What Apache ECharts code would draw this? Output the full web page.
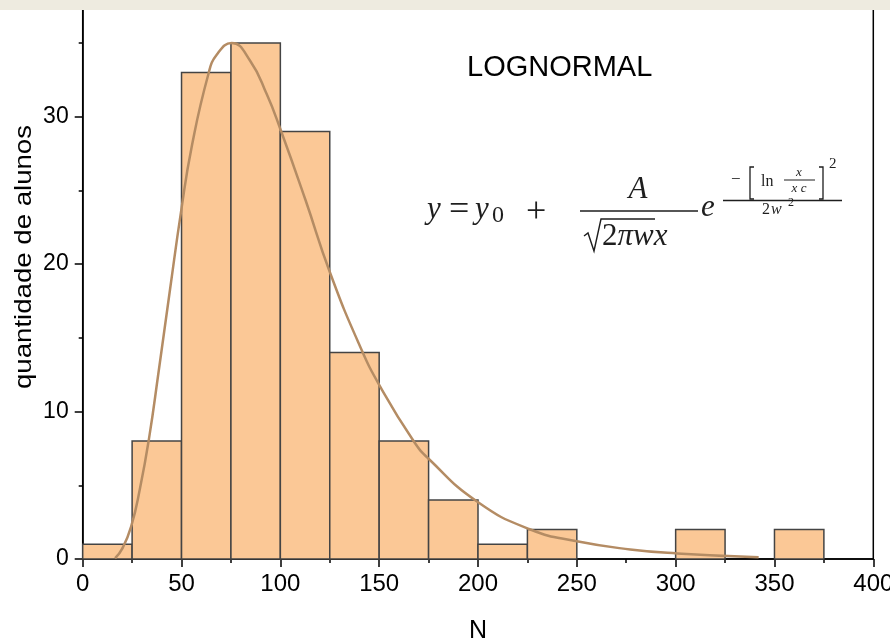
<!DOCTYPE html>
<html>
<head>
<meta charset="utf-8">
<script src="https://cdn.jsdelivr.net/npm/echarts@6/dist/echarts.min.js"></script>
<style>
  html, body { margin: 0; padding: 0; background: #ffffff; }
  #chart { width: 890px; height: 640px; }
</style>
</head>
<body>
<div id="chart"></div>
<script>
// Histogram of students per class size (bins of 25)
const binStarts = [0, 25, 50, 75, 100, 125, 150, 175, 200, 225, 250, 275, 300, 325, 350];
const binWidth = 25;
const studentCounts = [1, 8, 33, 35, 29, 14, 8, 4, 1, 2, 0, 0, 2, 0, 2];

// Fitted lognormal curve, sampled points
const fitN = [16.4, 20, 24.5, 29, 33.7, 38.3, 44.2, 49.8, 55.2, 63.6, 67.8, 75.4, 84.7,
              93.2, 99.9, 112.6, 125.2, 140.4, 150.5, 167.4, 175, 199.5, 226.5, 250, 277, 300.8, 342];
const fitCount = [0.05, 0.7, 2.2, 4.8, 8.3, 12.6, 18.3, 23.6, 28.0, 32.9, 34.2, 35.0, 33.8,
                  31.5, 29.2, 24.4, 19.4, 14.4, 11.7, 8.0, 6.8, 3.9, 2.0, 1.2, 0.65, 0.38, 0.12];

const xTickLabels = ['0', '50', '100', '150', '200', '250', '300', '350', '400'];
const yTickLabels = ['0', '10', '20', '30'];

const bins = binStarts
  .map((s, i) => [s, s + binWidth, studentCounts[i]])
  .filter(b => b[2] > 0);

const fitData = fitN.map((x, i) => [x, fitCount[i]]);

const sans = 'Liberation Sans, Arial, sans-serif';
const serif = 'Liberation Serif, Times New Roman, serif';
const ink = '#1e1e1e';

function txt(text, x, y, size, opts) {
  opts = opts || {};
  return {
    type: 'text', x: x, y: y, z: 50,
    style: {
      text: text, fill: ink,
      font: (opts.italic ? 'italic ' : '') + size + 'px ' + serif,
      align: opts.align || 'left', verticalAlign: 'middle'
    }
  };
}
function seg(points, w) {
  return { type: 'polyline', z: 50, shape: { points: points }, style: { stroke: ink, lineWidth: w || 1.4, fill: null } };
}

// y = y0 + A / (sqrt(2*pi) w x) * e^( -[ln(x/xc)]^2 / (2 w^2) )
const formula = [
  txt('y', 427, 210, 31, { italic: true }),
  txt('=', 449, 211, 36),
  txt('y', 475, 210, 31, { italic: true }),
  txt('0', 492, 216, 24),
  txt('+', 526, 213, 36),
  seg([[580, 211], [698, 211]], 1.5),
  txt('A', 638, 190, 31, { italic: true, align: 'center' }),
  seg([[584, 236], [588, 233], [594, 251], [601, 219], [655, 219]], 1.4),
  {
    type: 'text', x: 602, y: 237, z: 50,
    style: {
      text: '{n|2}{i|πwx}', verticalAlign: 'middle',
      rich: {
        n: { font: '31px ' + serif, fill: ink },
        i: { font: 'italic 31px ' + serif, fill: ink }
      }
    }
  },
  txt('e', 701, 208, 31, { italic: true }),
  seg([[723, 200.5], [842, 200.5]], 1.5),
  txt('−', 731, 180, 17),
  seg([[754, 167], [750, 167], [750, 199], [754, 199]], 1.3),
  txt('ln', 761, 182, 16),
  txt('x', 799, 173, 13, { italic: true, align: 'center' }),
  seg([[784, 180], [815, 180]], 1),
  txt('x c', 799, 189, 13, { italic: true, align: 'center' }),
  seg([[819, 167], [823, 167], [823, 199], [819, 199]], 1.3),
  txt('2', 829, 164, 15),
  txt('2', 762, 210, 16),
  txt('w', 771, 210, 16, { italic: true }),
  txt('2', 788, 203, 12)
];

const chart = echarts.init(document.getElementById('chart'), null, { renderer: 'canvas' });

chart.setOption({
  animation: false,
  backgroundColor: '#ffffff',
  grid: {
    left: 82.7, right: 16.7, top: -30.7, bottom: 81,
    containLabel: false, outerBoundsMode: 'none',
    show: true, borderColor: '#000000', borderWidth: 1.5, backgroundColor: 'transparent'
  },
  xAxis: {
    type: 'value', min: 0, max: 400, interval: 50,
    name: 'N', nameLocation: 'middle', nameGap: 60,
    nameTextStyle: { fontFamily: sans, fontSize: 25, color: '#000' },
    axisLine: { show: true, onZero: false, lineStyle: { color: '#000', width: 1.5 } },
    axisTick: { show: true, inside: false, length: 8, lineStyle: { color: '#000', width: 1.5 } },
    minorTick: { show: true, splitNumber: 2, length: 4, lineStyle: { color: '#000', width: 1.5 } },
    splitLine: { show: false },
    axisLabel: {
      margin: 13, fontFamily: sans, fontSize: 24, color: '#000',
      formatter: v => xTickLabels[Math.round(v / 50)] || ''
    }
  },
  yAxis: {
    type: 'value', min: 0, max: 40, interval: 10,
    axisLine: { show: true, onZero: false, lineStyle: { color: '#000', width: 1.5 } },
    axisTick: { show: true, inside: false, length: 8, lineStyle: { color: '#000', width: 1.5 } },
    minorTick: { show: true, splitNumber: 2, length: 4, lineStyle: { color: '#000', width: 1.5 } },
    splitLine: { show: false },
    axisLabel: {
      margin: 14, fontFamily: sans, fontSize: 23, color: '#000',
      formatter: v => yTickLabels[Math.round(v / 10)] || ''
    }
  },
  series: [
    {
      type: 'custom',
      name: 'quantidade de alunos',
      data: bins,
      encode: { x: [0, 1], y: 2 },
      z: 2,
      renderItem: function (params, api) {
        const base = api.coord([api.value(0), 0]);
        const top = api.coord([api.value(1), api.value(2)]);
        return {
          type: 'rect',
          shape: { x: base[0], y: top[1], width: top[0] - base[0], height: base[1] - top[1] },
          style: { fill: '#fbc896', stroke: '#444444', lineWidth: 1.5 }
        };
      }
    },
    {
      type: 'line',
      name: 'LOGNORMAL',
      data: fitData,
      smooth: 0.5,
      showSymbol: false,
      z: 3,
      lineStyle: { color: '#b48c64', width: 2.5 }
    }
  ],
  graphic: [
    { type: 'rect', z: 100, shape: { x: 0, y: 0, width: 890, height: 10 }, style: { fill: '#eeebe0' } },
    {
      type: 'text', x: 467, y: 68, z: 50,
      style: { text: 'LOGNORMAL', font: '29px ' + sans, fill: '#000', align: 'left', verticalAlign: 'middle' }
    },
    {
      type: 'text', x: 24, y: 257, rotation: Math.PI / 2, scaleX: 1.15, z: 50,
      style: { text: 'quantidade de alunos', font: '24px ' + sans, fill: '#000', align: 'center', verticalAlign: 'middle' }
    }
  ].concat(formula)
});
</script>
</body>
</html>
